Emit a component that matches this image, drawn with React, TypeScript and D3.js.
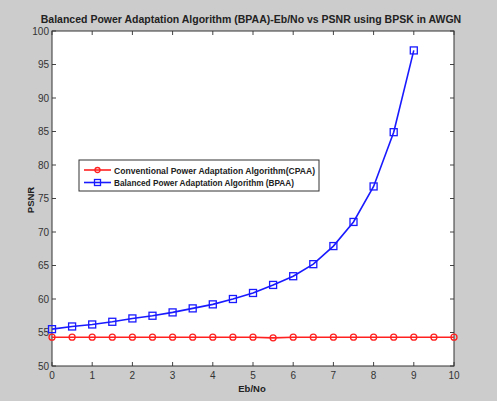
import React from 'react';
import * as d3 from 'd3';

// Eb/No (dB) and PSNR values
const cpaaEbNo = [0, 0.5, 1, 1.5, 2, 2.5, 3, 3.5, 4, 4.5, 5, 5.5, 6, 6.5, 7, 7.5, 8, 8.5, 9, 9.5, 10];
const cpaaPsnr = [54.3, 54.3, 54.3, 54.3, 54.3, 54.3, 54.3, 54.3, 54.3, 54.3, 54.3, 54.2, 54.3, 54.3, 54.3, 54.3, 54.3, 54.3, 54.3, 54.3, 54.3];

const bpaaEbNo = [0, 0.5, 1, 1.5, 2, 2.5, 3, 3.5, 4, 4.5, 5, 5.5, 6, 6.5, 7, 7.5, 8, 8.5, 9];
const bpaaPsnr = [55.5, 55.9, 56.2, 56.6, 57.1, 57.5, 58.0, 58.6, 59.2, 60.0, 60.9, 62.1, 63.4, 65.2, 67.9, 71.5, 76.8, 84.9, 97.1];

const xTicks = [0, 1, 2, 3, 4, 5, 6, 7, 8, 9, 10];
const yTicks = [50, 55, 60, 65, 70, 75, 80, 85, 90, 95, 100];

const legendLabels = [
  'Conventional Power Adaptation Algorithm(CPAA)',
  'Balanced Power Adaptation Algorithm (BPAA)',
];

const W = 497, H = 401;
const margin = { left: 52, right: 43, top: 31, bottom: 35 };

export default function App() {
  const x = d3.scaleLinear().domain([0, 10]).range([margin.left, W - margin.right]);
  const y = d3.scaleLinear().domain([50, 100]).range([H - margin.bottom, margin.top]);

  const line = d3.line<[number, number]>().x(d => x(d[0])).y(d => y(d[1]));
  const cpaa = cpaaEbNo.map((e, i) => [e, cpaaPsnr[i]] as [number, number]);
  const bpaa = bpaaEbNo.map((e, i) => [e, bpaaPsnr[i]] as [number, number]);

  const x0 = x(0), x1 = x(10), yTop = y(100), yBot = y(50);
  const font = 'Liberation Sans, Arial, sans-serif';

  return (
    <svg width={W} height={H} style={{ position: 'absolute', left: 0, top: 0, display: 'block' }}>
      <rect width={W} height={H} fill="#cccccc" />
      <rect x={x0} y={yTop} width={x1 - x0} height={yBot - yTop} fill="#ffffff" />

      {/* ticks, inside, on all four sides */}
      {xTicks.map(t => (
        <g key={'xt' + t}>
          <line x1={x(t)} x2={x(t)} y1={yBot} y2={yBot - 4} stroke="#444" />
          <line x1={x(t)} x2={x(t)} y1={yTop} y2={yTop + 4} stroke="#444" />
          <text x={x(t)} y={yBot + 13} textAnchor="middle" fontSize={10} fontFamily={font} fill="#333">{t}</text>
        </g>
      ))}
      {yTicks.map(t => (
        <g key={'yt' + t}>
          <line x1={x0} x2={x0 + 4} y1={y(t)} y2={y(t)} stroke="#444" />
          <line x1={x1} x2={x1 - 4} y1={y(t)} y2={y(t)} stroke="#444" />
          <text x={x0 - 3} y={y(t) + 3.5} textAnchor="end" fontSize={10} fontFamily={font} fill="#333">{t}</text>
        </g>
      ))}
      <rect x={x0} y={yTop} width={x1 - x0} height={yBot - yTop} fill="none" stroke="#333" strokeWidth={1} />

      {/* series */}
      <path d={line(cpaa) || ''} fill="none" stroke="#ff2020" strokeWidth={1.6} />
      {cpaa.map((d, i) => (
        <circle key={'c' + i} cx={x(d[0])} cy={y(d[1])} r={3} fill="none" stroke="#ff2020" strokeWidth={1.3} />
      ))}
      <path d={line(bpaa) || ''} fill="none" stroke="#1a1aff" strokeWidth={1.6} />
      {bpaa.map((d, i) => (
        <rect key={'s' + i} x={x(d[0]) - 3.5} y={y(d[1]) - 3.5} width={7} height={7} fill="none" stroke="#1a1aff" strokeWidth={1.3} />
      ))}

      {/* legend */}
      <g>
        <rect x={79} y={160} width={240} height={31} fill="#ffffff" stroke="#333" />
        {legendLabels.map((lab, i) => {
          const ly = 170 + i * 12.5;
          const col = i === 0 ? '#ff2020' : '#1a1aff';
          return (
            <g key={lab}>
              <line x1={84} x2={111} y1={ly} y2={ly} stroke={col} strokeWidth={1.6} />
              {i === 0
                ? <circle cx={97.5} cy={ly} r={2.5} fill="none" stroke={col} strokeWidth={1.3} />
                : <rect x={94.5} y={ly - 3} width={6} height={6} fill="none" stroke={col} strokeWidth={1.3} />}
              <text x={114} y={ly + 3.5} fontSize={9} fontWeight="bold" fontFamily={font} fill="#222" textLength={i === 0 ? 201 : 180} lengthAdjust="spacingAndGlyphs">{lab}</text>
            </g>
          );
        })}
      </g>

      {/* title and axis labels */}
      <text x={251} y={23} textAnchor="middle" fontSize={10.5} fontWeight="bold" fontFamily={font} fill="#222">
        Balanced Power Adaptation Algorithm (BPAA)-Eb/No vs PSNR using BPSK in AWGN
      </text>
      <text x={252} y={392} textAnchor="middle" fontSize={9.5} fontWeight="bold" fontFamily={font} fill="#222">Eb/No</text>
      <text transform={`translate(34,200) rotate(-90)`} textAnchor="middle" fontSize={9.5} fontWeight="bold" fontFamily={font} fill="#222">PSNR</text>
    </svg>
  );
}
